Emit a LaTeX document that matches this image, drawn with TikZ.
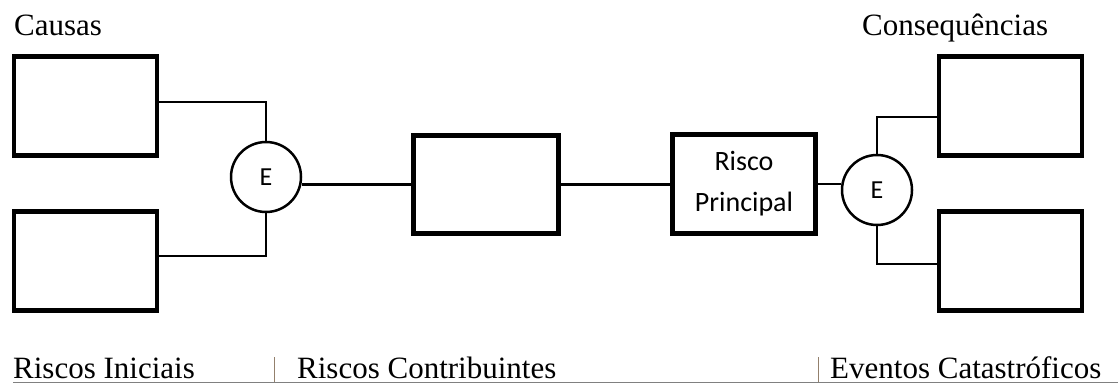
\documentclass[tikz,border=0pt]{standalone}
\usepackage{fontspec}
\setmainfont{Liberation Serif}
\newfontfamily\calib{Carlito}
\begin{document}
\begin{tikzpicture}[x=1pt,y=-1pt,
  boxnode/.style={draw=black,line width=4.2pt,inner sep=0pt,minimum width=143pt,minimum height=99pt},
  enode/.style={draw=black,circle,line width=2.5pt,inner sep=0pt,minimum size=70pt,font=\calib\fontsize{26}{30}\selectfont},
  conn/.style={draw=black,line width=2.6pt},
  lbl/.style={inner sep=0pt,anchor=base west,font=\fontsize{31}{37}\selectfont},
  sep/.style={draw=gray!70!brown,line width=1pt}]
\useasboundingbox (0,0) rectangle (1118,383);
% nodes
\node[boxnode] (c1) at (85.5,106) {};
\node[boxnode] (c2) at (85.5,261) {};
\node[enode] (e1) at (266,177) {E};
\node[boxnode,minimum width=145pt,minimum height=98pt] (m) at (486,184.5) {};
\node[boxnode,align=center,font=\calib\fontsize{28}{41}\selectfont] (rp) at (744,184) {Risco\\Principal};
\node[enode] (e2) at (877,190) {E};
\node[boxnode] (q1) at (1010.5,106) {};
\node[boxnode] (q2) at (1010.5,261) {};
% connectors
\draw[conn] ([yshift=4pt]c1.east) -| (e1.north);
\draw[conn] ([yshift=5pt]c2.east) -| (e1.south);
\draw[conn] (m.west) -- (m.west -| e1.east);
\draw[conn] (m.east) -- (m.east -| rp.west);
\draw[conn] (rp.east) -- (rp.east -| e2.west);
\draw[conn] (e2.north) |- ([yshift=-11pt]q1.west);
\draw[conn] (e2.south) |- ([yshift=-3pt]q2.west);
% labels
\node[lbl] (causas) at (14,35) {Causas};
\node[lbl] (cons) at (862,35) {Consequências};
\node[lbl] (ri) at (13,378) {Riscos Iniciais};
\node[lbl] (rc) at (297,378) {Riscos Contribuintes};
\node[lbl] (ec) at (830,378) {Eventos Catastróficos};
% separators and base line
\coordinate (s1a) at (274,357); \coordinate (s1b) at (274,383);
\coordinate (s2a) at (818,357); \coordinate (s2b) at (818,383);
\draw[sep] (s1a) -- (s1b);
\draw[sep] (s2a) -- (s2b);
\coordinate (la) at (13,382); \coordinate (lb) at (1118,382);
\draw[gray,line width=1pt] (la) -- (lb);
\end{tikzpicture}
\end{document}
